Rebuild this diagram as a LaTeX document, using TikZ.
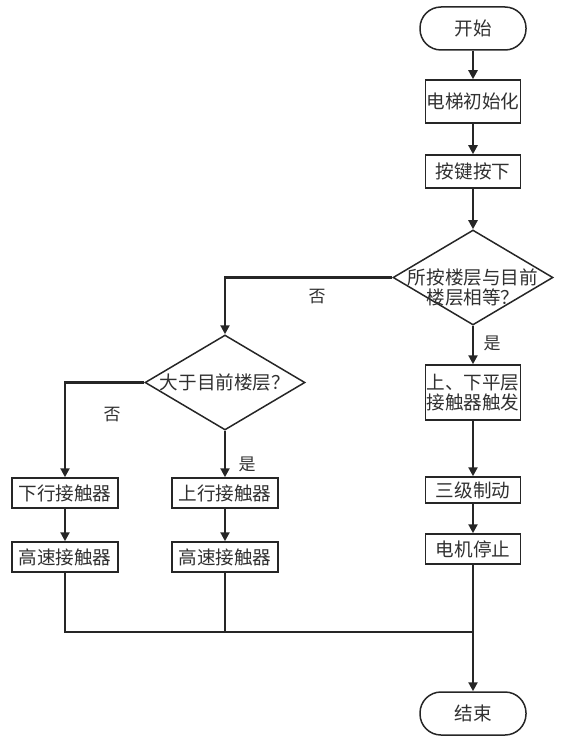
\documentclass[tikz,border=0pt]{standalone}
\usepackage{fontspec}
\setmainfont{Noto Sans CJK SC}
\usepackage{xcolor}
\usetikzlibrary{arrows.meta,shapes.geometric,positioning}
\definecolor{flowline}{HTML}{262626}
\definecolor{flowtext}{HTML}{303030}

\tikzset{
  base/.style={draw=flowline,line width=1.5pt,inner sep=0pt,text=flowtext,font=\fontsize{18.6}{20}\selectfont,align=center},
  terminal/.style={base,rectangle,rounded corners=21pt,minimum width=106pt,minimum height=43pt},
  procbox/.style={base,rectangle,minimum width=95pt},
  sidebox/.style={base,rectangle,minimum width=106pt,minimum height=30pt},
  decision/.style={base,diamond,minimum width=160pt,minimum height=95pt},
  lbl/.style={text=flowtext,font=\fontsize{17}{20}\selectfont,inner sep=0pt},
  flow/.style={draw=flowline,line width=2.2pt,-{Triangle[width=9pt,length=9pt]}},
  mergeline/.style={draw=flowline,line width=1.6pt}
}

\begin{document}
\begin{tikzpicture}[x=1pt,y=-1pt]
  \useasboundingbox (0,0) rectangle (565,746);
  % right column
  \node[terminal] (start) at (473,28.5) {开始};
  \node[procbox,minimum height=43pt] (init) at (473,101.5) {电梯初始化};
  \node[procbox,minimum height=33pt] (key) at (473,171.5) {按键按下};
  \node[decision,label={[lbl,font=\fontsize{18.6}{20}\selectfont,align=center,yshift=-10pt]center:所按楼层与目前\\楼层相等？}] (same) at (473,277.5) {};
  \node[procbox,minimum height=55pt] (level) at (473,392.5) {上、下平层\\接触器触发};
  \node[procbox,minimum height=26pt] (brake) at (473,490) {三级制动};
  \node[procbox,minimum height=30pt] (stop) at (473,549) {电机停止};
  \node[terminal] (finish) at (473,713.5) {结束};
  % left part
  \node[decision,label={[lbl,font=\fontsize{18.6}{20}\selectfont]center:大于目前楼层？}] (higher) at (225,382.5) {};
  \node[sidebox] (down) at (65,493) {下行接触器};
  \node[sidebox] (downfast) at (65,557) {高速接触器};
  \node[sidebox] (up) at (225,493) {上行接触器};
  \node[sidebox] (upfast) at (225,557) {高速接触器};
  \coordinate (merge) at (473,632);
  % labels
  \node[lbl] (no1) at (317,297) {否};
  \node[lbl] (yes1) at (492,343) {是};
  \node[lbl] (no2) at (112,415) {否};
  \node[lbl] (yes2) at (247,464) {是};
  % connectors
  \draw[flow] (start) -- (init);
  \draw[flow] (init) -- (key);
  \draw[flow] (key) -- (same);
  \draw[flow] (same) -- (level);
  \draw[flow] (level) -- (brake);
  \draw[flow] (brake) -- (stop);
  \draw[flow] (same.west) -| (higher.north);
  \draw[flow] (higher.west) -| (down.north);
  \draw[flow] (higher) -- (up);
  \draw[flow] (down) -- (downfast);
  \draw[flow] (up) -- (upfast);
  \draw[mergeline] (downfast.south) |- (merge);
  \draw[mergeline] (upfast.south) -- (upfast.south |- merge);
  \draw[flow] (stop) -- (finish);
\end{tikzpicture}
\end{document}
